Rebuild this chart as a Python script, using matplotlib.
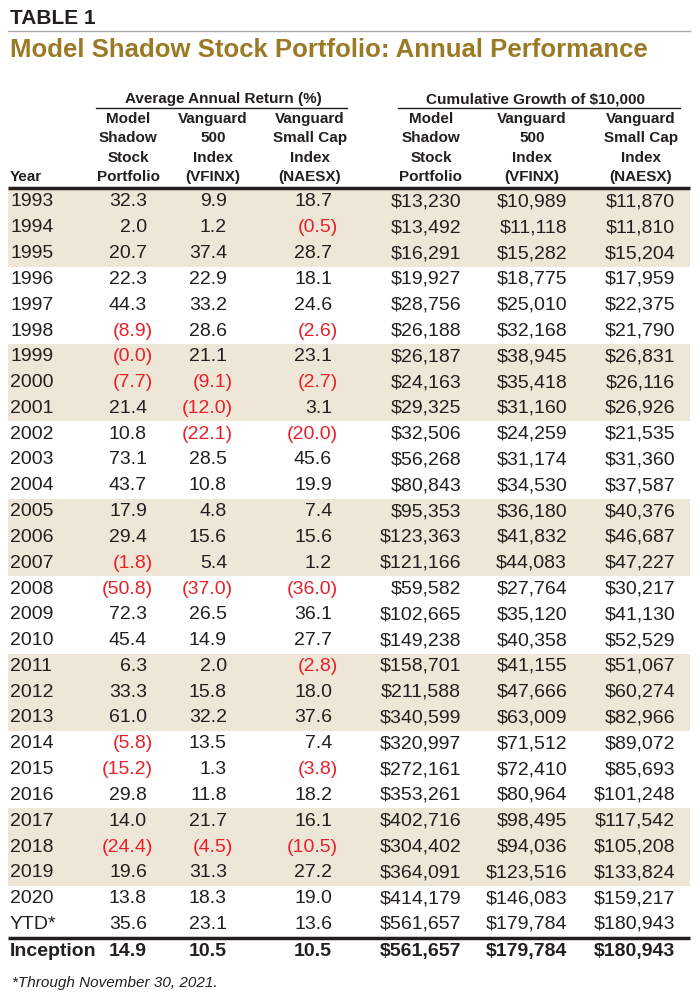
import numpy as np
import matplotlib.pyplot as plt

# data
years = ['1993', '1994', '1995', '1996', '1997', '1998', '1999', '2000', '2001',
         '2002', '2003', '2004', '2005', '2006', '2007', '2008', '2009', '2010',
         '2011', '2012', '2013', '2014', '2015', '2016', '2017', '2018', '2019',
         '2020', 'YTD*']
ret_model = [32.3, 2.0, 20.7, 22.3, 44.3, -8.9, -0.0, -7.7, 21.4, 10.8, 73.1, 43.7,
             17.9, 29.4, -1.8, -50.8, 72.3, 45.4, 6.3, 33.3, 61.0, -5.8, -15.2, 29.8,
             14.0, -24.4, 19.6, 13.8, 35.6]
ret_vfinx = [9.9, 1.2, 37.4, 22.9, 33.2, 28.6, 21.1, -9.1, -12.0, -22.1, 28.5, 10.8,
             4.8, 15.6, 5.4, -37.0, 26.5, 14.9, 2.0, 15.8, 32.2, 13.5, 1.3, 11.8,
             21.7, -4.5, 31.3, 18.3, 23.1]
ret_naesx = [18.7, -0.5, 28.7, 18.1, 24.6, -2.6, 23.1, -2.7, 3.1, -20.0, 45.6, 19.9,
             7.4, 15.6, 1.2, -36.0, 36.1, 27.7, -2.8, 18.0, 37.6, 7.4, -3.8, 18.2,
             16.1, -10.5, 27.2, 19.0, 13.6]
cum_model = [13230, 13492, 16291, 19927, 28756, 26188, 26187, 24163, 29325, 32506,
             56268, 80843, 95353, 123363, 121166, 59582, 102665, 149238, 158701,
             211588, 340599, 320997, 272161, 353261, 402716, 304402, 364091, 414179,
             561657]
cum_vfinx = [10989, 11118, 15282, 18775, 25010, 32168, 38945, 35418, 31160, 24259,
             31174, 34530, 36180, 41832, 44083, 27764, 35120, 40358, 41155, 47666,
             63009, 71512, 72410, 80964, 98495, 94036, 123516, 146083, 179784]
cum_naesx = [11870, 11810, 15204, 17959, 22375, 21790, 26831, 26116, 26926, 21535,
             31360, 37587, 40376, 46687, 47227, 30217, 41130, 52529, 51067, 60274,
             82966, 89072, 85693, 101248, 117542, 105208, 133824, 159217, 180943]
inception = ['14.9', '10.5', '10.5', '$561,657', '$179,784', '$180,943']

col_heads = [['Model', 'Shadow', 'Stock', 'Portfolio'],
             ['Vanguard', '500', 'Index', '(VFINX)'],
             ['Vanguard', 'Small Cap', 'Index', '(NAESX)'],
             ['Model', 'Shadow', 'Stock', 'Portfolio'],
             ['Vanguard', '500', 'Index', '(VFINX)'],
             ['Vanguard', 'Small Cap', 'Index', '(NAESX)']]

TXT = '#231f20'
RED = '#e8202a'
GOLD = '#9b7a26'
SHADE = '#eee7d7'

plt.rcParams['font.family'] = ['Liberation Sans', 'DejaVu Sans']

fig = plt.figure(figsize=(7, 10), dpi=100)
ax = fig.add_axes([0, 0, 1, 1])
ax.set_xlim(0, 700)
ax.set_ylim(1000, 0)
ax.axis('off')

# title block
ax.text(10, 18, 'TABLE 1', fontsize=15, fontweight='bold', color=TXT, va='center')
ax.plot([8, 690], [31, 31], color='#aaaaaa', lw=1)
ax.text(10, 50, 'Model Shadow Stock Portfolio: Annual Performance', fontsize=18.5,
        fontweight='bold', color=GOLD, va='center')

# group headers
ax.text(223, 99, 'Average Annual Return (%)', fontsize=11, fontweight='bold',
        color=TXT, ha='center', va='center')
ax.plot([96, 347], [108, 108], color=TXT, lw=1)
ax.text(536, 99, 'Cumulative Growth of $10,000', fontsize=11, fontweight='bold',
        color=TXT, ha='center', va='center')
ax.plot([398, 680], [108, 108], color=TXT, lw=1)

head_x = [128, 213, 310, 431, 532, 641]
head_y = [119, 138, 158, 177]
for cx, lines in zip(head_x, col_heads):
    for hy, s in zip(head_y, lines):
        ax.text(cx, hy, s, fontsize=11, fontweight='bold', color=TXT,
                ha='center', va='center')
ax.text(10, 177, 'Year', fontsize=11, fontweight='bold', color=TXT, va='center')

ax.plot([8, 690], [188, 188], color=TXT, lw=2.5, solid_capstyle='butt')

# body rows
row0 = 202
step = 25.8
right_x = [147, 227, 332, 461, 567, 675]
for i in range(len(years)):
    y = row0 + i * step
    if (i // 3) % 2 == 0:
        ax.fill_between([8, 690], y - step / 2, y + step / 2, color=SHADE, lw=0)
    ax.text(10, y, years[i], fontsize=14, color=TXT, va='center')
    for j, vals in enumerate([ret_model, ret_vfinx, ret_naesx]):
        v = vals[i]
        if np.signbit(v):
            ax.text(right_x[j] + 6, y, '(%.1f)' % abs(v), fontsize=14, color=RED,
                    ha='right', va='center')
        else:
            ax.text(right_x[j], y, '%.1f' % v, fontsize=14, color=TXT,
                    ha='right', va='center')
    for j, vals in enumerate([cum_model, cum_vfinx, cum_naesx]):
        ax.text(right_x[j + 3], y, '${:,}'.format(vals[i]), fontsize=14, color=TXT,
                ha='right', va='center')

y_last = row0 + (len(years) - 1) * step
ax.plot([8, 690], [y_last + 13.5, y_last + 13.5], color=TXT, lw=2.5,
        solid_capstyle='butt')
y_inc = y_last + 27
ax.text(10, y_inc, 'Inception', fontsize=14, fontweight='bold', color=TXT,
        va='center')
for j, s in enumerate(inception):
    ax.text(right_x[j], y_inc, s, fontsize=14, fontweight='bold', color=TXT,
            ha='right', va='center')

ax.text(12, 983, '*Through November 30, 2021.', fontsize=11, style='italic',
        color=TXT, va='center')

fig.savefig('out.png', dpi=100)
